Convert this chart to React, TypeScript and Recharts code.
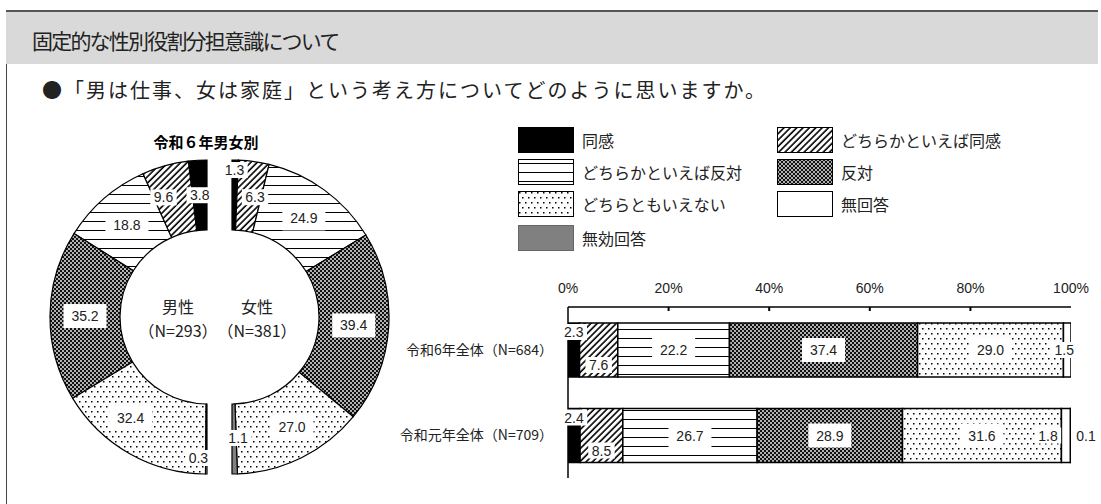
import React from 'react';
import { PieChart, Pie, Cell, BarChart, Bar, XAxis, YAxis, LabelList } from 'recharts';

// ---------- data ----------
const responseKeys = ['同感', 'どちらかといえば同感', 'どちらかといえば反対', '反対', 'どちらともいえない', '無回答', '無効回答'];

const maleKeys = ['同感', 'どちらかといえば同感', 'どちらかといえば反対', '反対', 'どちらともいえない', '無回答'];
const maleValues = [3.8, 9.6, 18.8, 35.2, 32.4, 0.3];
const femaleKeys = ['同感', 'どちらかといえば同感', 'どちらかといえば反対', '反対', 'どちらともいえない', '無効回答'];
const femaleValues = [1.3, 6.3, 24.9, 39.4, 27.0, 1.1];

const barCategories = ['令和6年全体（N=684）', '令和元年全体（N=709）'];
const agreeValues = [2.3, 2.4];
const somewhatAgreeValues = [7.6, 8.5];
const somewhatDisagreeValues = [22.2, 26.7];
const disagreeValues = [37.4, 28.9];
const neitherValues = [29.0, 31.6];
const noAnswerValues = [1.5, 1.8];
const invalidValues: (number | null)[] = [null, 0.1];
const percentTicks = [0, 20, 40, 60, 80, 100];

const legendLeft = ['同感', 'どちらかといえば反対', 'どちらともいえない', '無効回答'];
const legendRight = ['どちらかといえば同感', '反対', '無回答'];

// ---------- styles ----------
const FILL: Record<string, string> = {
  '同感': '#000',
  'どちらかといえば同感': 'url(#pHatch)',
  'どちらかといえば反対': 'url(#pLines)',
  '反対': 'url(#pCheck)',
  'どちらともいえない': 'url(#pDots)',
  '無回答': '#fff',
  '無効回答': '#808080',
};

const NUM_FONT = '"Liberation Sans", Arial, sans-serif';
const JP_FONT = '"Noto Sans CJK JP", "Noto Sans", sans-serif';

const barData = barCategories.map((name, i) => ({
  name,
  '同感': agreeValues[i],
  'どちらかといえば同感': somewhatAgreeValues[i],
  'どちらかといえば反対': somewhatDisagreeValues[i],
  '反対': disagreeValues[i],
  'どちらともいえない': neitherValues[i],
  '無回答': noAnswerValues[i],
  '無効回答': invalidValues[i],
}));

const maleData = maleKeys.map((k, i) => ({ name: k, value: maleValues[i] }));
const femaleData = femaleKeys.map((k, i) => ({ name: k, value: femaleValues[i] }));

// label placement modes for bars (style only)
const barLabelMode: Record<string, string> = {
  '同感': 'top',
  'どちらかといえば同感': 'bottom',
  '無効回答': 'outside',
};
const barLabelNudge: Record<string, number> = {
  '無回答-0': -3,
  '無回答-1': -18,
};
const pieLabelNudge: Record<string, [number, number]> = {
  'm-1': [-11, -2],
  'm-4': [-16, -5],
  'm-5': [-8, 19],
  'f-0': [0, -25],
  'f-1': [6, 1],
  'f-4': [6, 1],
  'f-5': [4, -1],
};

function LabelBox({ x, y, value }: { x: number; y: number; value: number }) {
  const text = value.toFixed(1);
  const big = value >= 10;
  const w = big ? 43 : text.length * 7.8 + 3;
  const h = big ? 24 : 16;
  return (
    <g>
      <rect x={x - w / 2} y={y - h / 2} width={w} height={h} fill="#fff" />
      <text x={x} y={y} dy="0.36em" textAnchor="middle" fontSize={14} fontFamily={NUM_FONT} fill="#222">
        {text}
      </text>
    </g>
  );
}

function Patterns() {
  return (
    <svg width={0} height={0} style={{ position: 'absolute', left: 0, top: 0 }}>
      <defs>
        <pattern id="pHatch" width={4.5} height={4.5} patternUnits="userSpaceOnUse" patternTransform="rotate(45)">
          <rect width={4.5} height={4.5} fill="#fff" />
          <line x1={1} y1={0} x2={1} y2={4.5} stroke="#000" strokeWidth={1.6} />
        </pattern>
        <pattern id="pLines" width={10} height={9} patternUnits="userSpaceOnUse">
          <rect width={10} height={9} fill="#fff" />
          <line x1={0} y1={4.5} x2={10} y2={4.5} stroke="#000" strokeWidth={1} />
        </pattern>
        <pattern id="pCheck" width={4} height={4} patternUnits="userSpaceOnUse">
          <rect width={4} height={4} fill="#111" />
          <circle cx={1} cy={1} r={0.9} fill="#fff" />
          <circle cx={3} cy={3} r={0.9} fill="#fff" />
        </pattern>
        <pattern id="pDots" width={6} height={10} patternUnits="userSpaceOnUse">
          <rect width={6} height={10} fill="#fcfcfc" />
          <rect x={1} y={1} width={1.5} height={1.5} fill="#000" />
          <rect x={4} y={6} width={1.5} height={1.5} fill="#000" />
        </pattern>
      </defs>
    </svg>
  );
}

const RADIAN = Math.PI / 180;
function makePieLabel(prefix: string) {
  return (props: any) => {
    const { cx, cy, midAngle, innerRadius, outerRadius, value, index } = props;
    const r = (Number(innerRadius) + Number(outerRadius)) / 2;
    const nudge = pieLabelNudge[`${prefix}-${index}`] || [0, 0];
    const x = Number(cx) + r * Math.cos(-midAngle * RADIAN) + nudge[0];
    const y = Number(cy) + r * Math.sin(-midAngle * RADIAN) + nudge[1];
    return <LabelBox key={`${prefix}-${index}`} x={x} y={y} value={value} />;
  };
}

function makeBarLabel(key: string) {
  return (props: any) => {
    const vb = props.viewBox || props;
    const x = Number(vb.x ?? props.x);
    const y = Number(vb.y ?? props.y);
    const w = Number(vb.width ?? props.width);
    const h = Number(vb.height ?? props.height);
    const value = props.value;
    const index = props.index;
    if (value == null || isNaN(Number(value))) return null;
    const mode = barLabelMode[key] || 'center';
    let lx = x + w / 2 + (barLabelNudge[`${key}-${index}`] || 0);
    let ly = y + h / 2;
    if (mode === 'top') ly = y + 9;
    if (mode === 'bottom') ly = y + h - 12;
    if (mode === 'outside') lx = x + w + 15;
    if (mode === 'outside') {
      return (
        <text x={lx} y={ly} dy="0.36em" textAnchor="middle" fontSize={14} fontFamily={NUM_FONT} fill="#222">
          {Number(value).toFixed(1)}
        </text>
      );
    }
    return <LabelBox x={lx} y={ly} value={Number(value)} />;
  };
}

function TopTick(props: any) {
  const { x, y, payload } = props;
  const v = payload.value;
  return (
    <g>
      {v > 0 && v < 100 && <line x1={x} y1={y} x2={x} y2={y + 4} stroke="#000" strokeWidth={2} />}
      <text x={x} y={y - 14} textAnchor="middle" fontSize={14} fontFamily={NUM_FONT} fill="#222">
        {`${v}%`}
      </text>
    </g>
  );
}

function LeftTick(props: any) {
  const { x, y, payload } = props;
  return (
    <text x={x - 15} y={y} dy="0.36em" textAnchor="end" fontSize={14} fontFamily={JP_FONT} fill="#222">
      {payload.value}
    </text>
  );
}

function Swatch({ k }: { k: string }) {
  return (
    <svg width={56} height={26} style={{ display: 'block' }}>
      <rect x={0.5} y={0.5} width={55} height={25} fill={FILL[k]} stroke={k === '無効回答' ? '#666' : '#000'} strokeWidth={1} />
    </svg>
  );
}

function LegendColumn({ items, left }: { items: string[]; left: number }) {
  const tops = [127, 159, 191, 225];
  return (
    <>
      {items.map((k, i) => (
        <div key={k} style={{ position: 'absolute', left, top: tops[i], height: 26, display: 'flex', alignItems: 'center' }}>
          <Swatch k={k} />
          <span style={{ marginLeft: 8, fontSize: 16, fontFamily: JP_FONT, color: '#222', whiteSpace: 'nowrap' }}>{k}</span>
        </div>
      ))}
    </>
  );
}

export default function App() {
  return (
    <div style={{ position: 'absolute', left: 0, top: 0, width: 1101, height: 504, background: '#fff', overflow: 'hidden' }}>
      <Patterns />
      {/* page frame & header */}
      <div style={{ position: 'absolute', left: 6, top: 10, width: 1, height: 494, background: '#444' }} />
      <div style={{ position: 'absolute', left: 6, top: 10, width: 1092, height: 54, background: '#d9d9d9', borderTop: '2px solid #555', boxSizing: 'border-box' }} />
      <div style={{ position: 'absolute', left: 32, top: 25, fontSize: 21, lineHeight: '30px', fontFamily: JP_FONT, color: '#222', letterSpacing: -1.8, whiteSpace: 'nowrap' }}>
        固定的な性別役割分担意識について
      </div>
      <div style={{ position: 'absolute', left: 42, top: 76, fontSize: 20, lineHeight: '28px', fontFamily: JP_FONT, color: '#222', letterSpacing: 2.0, whiteSpace: 'nowrap' }}>
        ●「男は仕事、女は家庭」という考え方についてどのように思いますか。
      </div>

      {/* donut */}
      <div style={{ position: 'absolute', left: 106, top: 131, width: 200, textAlign: 'center', fontSize: 15, fontWeight: 'bold', fontFamily: JP_FONT, color: '#000', lineHeight: '22px' }}>
        令和６年男女別
      </div>
      <div style={{ position: 'absolute', left: 0, top: 100 }}>
        <PieChart width={440} height={400}>
          <Pie
            data={maleData}
            dataKey="value"
            nameKey="name"
            cx={202}
            cy={212}
            innerRadius={87}
            outerRadius={157}
            startAngle={90}
            endAngle={270}
            stroke="#000"
            strokeWidth={1.2}
            isAnimationActive={false}
            labelLine={false}
            label={makePieLabel('m')}
          >
            {maleData.map((d) => (
              <Cell key={d.name} fill={FILL[d.name]} />
            ))}
          </Pie>
          <Pie
            data={femaleData}
            dataKey="value"
            nameKey="name"
            cx={227}
            cy={212}
            innerRadius={87}
            outerRadius={157}
            startAngle={90}
            endAngle={-90}
            stroke="#000"
            strokeWidth={1.2}
            isAnimationActive={false}
            labelLine={false}
            label={makePieLabel('f')}
          >
            {femaleData.map((d) => (
              <Cell key={d.name} fill={FILL[d.name]} />
            ))}
          </Pie>
        </PieChart>
      </div>
      <div style={{ position: 'absolute', left: 128, top: 294, width: 100, textAlign: 'center', fontSize: 16, lineHeight: '24px', fontFamily: JP_FONT, color: '#222' }}>
        男性<br />（N=293）
      </div>
      <div style={{ position: 'absolute', left: 207, top: 294, width: 100, textAlign: 'center', fontSize: 16, lineHeight: '24px', fontFamily: JP_FONT, color: '#222' }}>
        女性<br />（N=381）
      </div>

      {/* legend */}
      <LegendColumn items={legendLeft} left={518} />
      <LegendColumn items={legendRight} left={777} />

      {/* stacked bars */}
      <div style={{ position: 'absolute', left: 390, top: 262 }}>
        <BarChart width={711} height={240} data={barData} layout="vertical" margin={{ top: 15, right: 30, bottom: 24, left: 0 }} barSize={54}>
          <XAxis
            type="number"
            orientation="top"
            domain={[0, 100]}
            ticks={percentTicks}
            allowDataOverflow
            height={30}
            tickSize={0}
            tickMargin={0}
            tick={<TopTick />}
            tickLine={false}
            axisLine={{ stroke: '#000', strokeWidth: 1.5 }}
          />
          <XAxis
            xAxisId="frameBottom"
            type="number"
            orientation="bottom"
            domain={[0, 100]}
            height={0}
            tick={false}
            tickLine={false}
            axisLine={{ stroke: '#000', strokeWidth: 1.5 }}
          />
          <YAxis
            type="category"
            dataKey="name"
            width={178}
            tickSize={0}
            tickMargin={0}
            tick={<LeftTick />}
            tickLine={false}
            axisLine={{ stroke: '#000', strokeWidth: 1.5 }}
          />
          <YAxis
            yAxisId="frameRight"
            type="category"
            dataKey="name"
            orientation="right"
            width={0}
            tick={false}
            tickLine={false}
            axisLine={{ stroke: '#000', strokeWidth: 1.5 }}
          />
          {responseKeys.map((k) => (
            <Bar key={k} dataKey={k} stackId="s" fill={FILL[k]} stroke="#000" strokeWidth={1.5} isAnimationActive={false}>
              <LabelList dataKey={k} content={makeBarLabel(k)} />
            </Bar>
          ))}
        </BarChart>
      </div>
    </div>
  );
}
